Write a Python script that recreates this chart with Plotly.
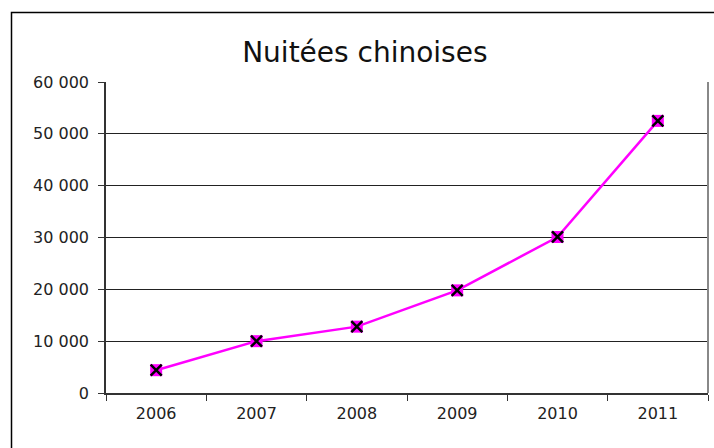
import plotly.graph_objects as go

years = ["2006", "2007", "2008", "2009", "2010", "2011"]
nights = [4400, 10000, 12800, 19800, 30100, 52500]
y_ticks = [0, 10000, 20000, 30000, 40000, 50000, 60000]
y_tick_labels = ["0", "10 000", "20 000", "30 000", "40 000", "50 000", "60 000"]
title_text = "Nuitées chinoises"

W, H = 714, 448
L, R, T, B = 106, 6, 82, 55
pw, ph = W - L - R, H - T - B

def px_x(p):
    return (p - L) / pw

def px_y(p):
    return (H - B - p) / ph

fig = go.Figure()
fig.add_trace(go.Scatter(
    x=years, y=nights, mode="lines+markers",
    line=dict(color="#ff00ff", width=2.5),
    marker=dict(symbol="square", size=12, color="#ff00ff", line=dict(width=0)),
    showlegend=False, hoverinfo="skip"))
fig.add_trace(go.Scatter(
    x=years, y=nights, mode="markers",
    marker=dict(symbol="x-thin-open", size=11, color="black", line=dict(width=2.5, color="black")),
    showlegend=False))

fig.update_layout(
    width=W, height=H,
    margin=dict(l=L, r=R, t=T, b=B),
    paper_bgcolor="white", plot_bgcolor="white",
    font=dict(family="DejaVu Sans", color="#222222"),
    title=dict(text=title_text, x=0.511, xanchor="center", y=1 - 52 / H, yanchor="middle",
               font=dict(size=28, color="#111111", family="DejaVu Sans")),
    xaxis=dict(type="category", tickson="boundaries", ticks="outside", ticklen=6,
               tickcolor="#333333", showgrid=False, showline=True, linecolor="#333333",
               linewidth=1.5, tickfont=dict(size=16), range=[-0.5, 5.5], zeroline=False,
               fixedrange=True, ticklabelstandoff=5),
    yaxis=dict(range=[0, 60000], tickvals=y_ticks, ticktext=y_tick_labels,
               ticks="outside", ticklen=6, tickcolor="#333333", showline=True,
               linecolor="#333333", linewidth=1.5, showgrid=True, gridcolor="#222222",
               gridwidth=1, zeroline=False, tickfont=dict(size=16), ticklabelstandoff=6),
    shapes=[
        dict(type="line", xref="paper", yref="paper", x0=1, x1=1, y0=0, y1=1,
             line=dict(color="#888888", width=2)),
        dict(type="rect", xref="paper", yref="paper",
             x0=px_x(11.5), x1=px_x(740), y0=px_y(470), y1=px_y(12.5),
             line=dict(color="black", width=1.5), layer="above"),
    ],
)

fig.write_html("out.html", config={"displayModeBar": False},
               post_script="document.body.style.margin='0';document.body.style.overflow='hidden';")
